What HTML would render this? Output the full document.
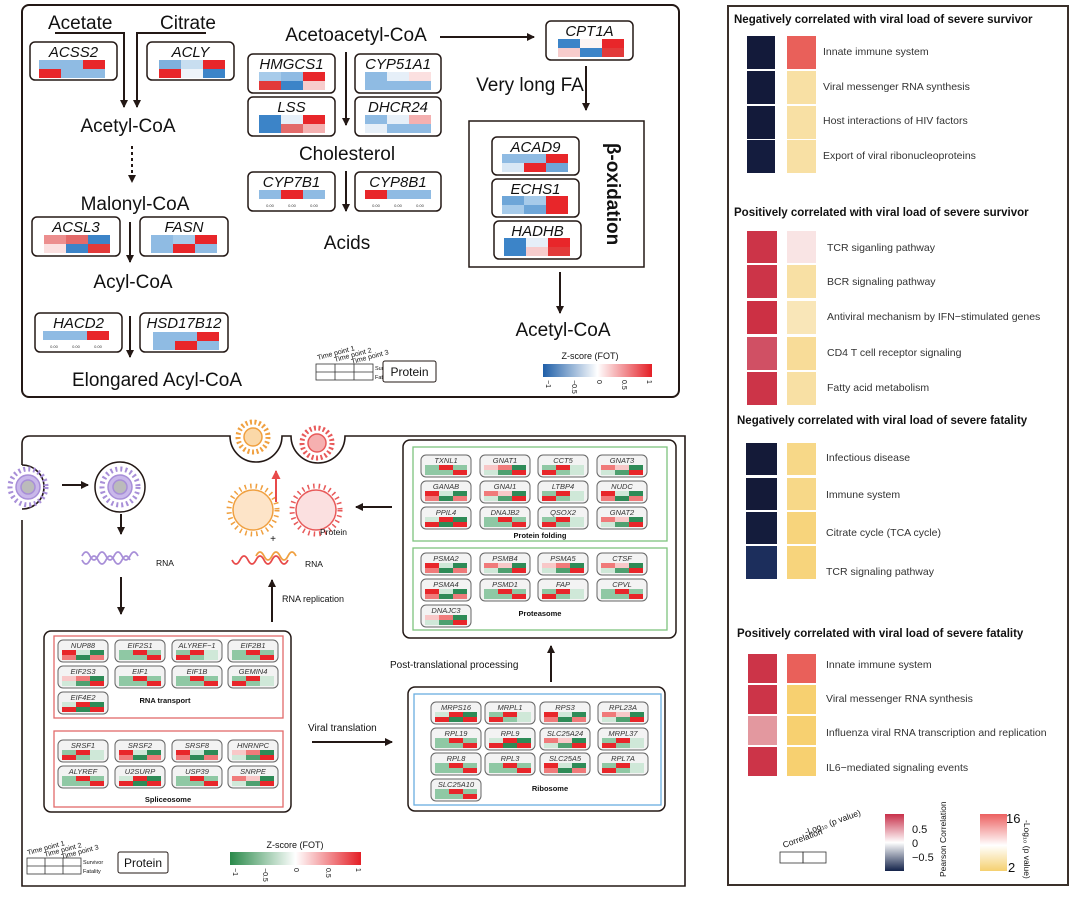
<!DOCTYPE html>
<html><head><meta charset="utf-8"><style>
html,body{margin:0;padding:0;background:#fff}
svg{display:block}
text{font-family:"Liberation Sans",Arial,sans-serif;fill:#111}
.big{font-size:19px}
.gn{font-size:15px;font-style:italic}
.sg{font-size:7.5px;font-style:italic;fill:#333}
.lab{font-size:7.5px;font-weight:bold}
.rt{font-size:10.5px;fill:#333}
.hd{font-size:11.5px;font-weight:bold}
.num{font-size:4px;fill:#333}
</style></head><body>
<svg width="1080" height="899" viewBox="0 0 1080 899" xmlns="http://www.w3.org/2000/svg">
<defs>
<marker id="a" markerWidth="8" markerHeight="8" refX="7" refY="4" orient="auto" markerUnits="userSpaceOnUse"><path d="M0,0 L8,4 L0,8 Z" fill="#231815"/></marker>
<marker id="ar" markerWidth="9" markerHeight="9" refX="8" refY="4.5" orient="auto" markerUnits="userSpaceOnUse"><path d="M0,0 L9,4.5 L0,9 Z" fill="#e84a4a"/></marker>
<linearGradient id="zb" x1="0" x2="1"><stop offset="0" stop-color="#1f5fa8"/><stop offset="0.5" stop-color="#fff"/><stop offset="1" stop-color="#e41f26"/></linearGradient>
<linearGradient id="zg" x1="0" x2="1"><stop offset="0" stop-color="#2a8a4a"/><stop offset="0.5" stop-color="#fff"/><stop offset="1" stop-color="#e41f26"/></linearGradient>
<linearGradient id="pc" x1="0" y1="0" x2="0" y2="1"><stop offset="0" stop-color="#c8304a"/><stop offset="0.5" stop-color="#fff"/><stop offset="1" stop-color="#14234a"/></linearGradient>
<linearGradient id="pv" x1="0" y1="0" x2="0" y2="1"><stop offset="0" stop-color="#ec6060"/><stop offset="0.55" stop-color="#fff"/><stop offset="1" stop-color="#f5d070"/></linearGradient>
<g id="sb"><rect width="50" height="22" rx="5" fill="#f3f3f3" stroke="#666" stroke-width="1"/></g>
<g id="p1"><rect x="4" y="10" width="14" height="5" fill="#8fc8a4"/><rect x="18" y="10" width="14" height="5" fill="#e8262a"/><rect x="32" y="10" width="14" height="5" fill="#8fc8a4"/><rect x="4" y="15" width="14" height="5" fill="#8fc8a4"/><rect x="18" y="15" width="14" height="5" fill="#8fc8a4"/><rect x="32" y="15" width="14" height="5" fill="#e8262a"/></g>
<g id="p2"><rect x="4" y="10" width="14" height="5" fill="#f8c8c8"/><rect x="18" y="10" width="14" height="5" fill="#f07a7a"/><rect x="32" y="10" width="14" height="5" fill="#2e8b57"/><rect x="4" y="15" width="14" height="5" fill="#cfe8d8"/><rect x="18" y="15" width="14" height="5" fill="#4ea070"/><rect x="32" y="15" width="14" height="5" fill="#e8262a"/></g>
<g id="p3"><rect x="4" y="10" width="14" height="5" fill="#8fc8a4"/><rect x="18" y="10" width="14" height="5" fill="#e8262a"/><rect x="32" y="10" width="14" height="5" fill="#cfe8d8"/><rect x="4" y="15" width="14" height="5" fill="#e8262a"/><rect x="18" y="15" width="14" height="5" fill="#8fc8a4"/><rect x="32" y="15" width="14" height="5" fill="#cfe8d8"/></g>
<g id="p4"><rect x="4" y="10" width="14" height="5" fill="#e8262a"/><rect x="18" y="10" width="14" height="5" fill="#cfe8d8"/><rect x="32" y="10" width="14" height="5" fill="#2e8b57"/><rect x="4" y="15" width="14" height="5" fill="#f07a7a"/><rect x="18" y="15" width="14" height="5" fill="#2e8b57"/><rect x="32" y="15" width="14" height="5" fill="#f07a7a"/></g>
<g id="p5"><rect x="4" y="10" width="14" height="5" fill="#cfe8d8"/><rect x="18" y="10" width="14" height="5" fill="#e8262a"/><rect x="32" y="10" width="14" height="5" fill="#2e8b57"/><rect x="4" y="15" width="14" height="5" fill="#e8262a"/><rect x="18" y="15" width="14" height="5" fill="#2e8b57"/><rect x="32" y="15" width="14" height="5" fill="#e8262a"/></g>
<g id="p6"><rect x="4" y="10" width="14" height="5" fill="#f07a7a"/><rect x="18" y="10" width="14" height="5" fill="#f8c8c8"/><rect x="32" y="10" width="14" height="5" fill="#2e8b57"/><rect x="4" y="15" width="14" height="5" fill="#cfe8d8"/><rect x="18" y="15" width="14" height="5" fill="#4ea070"/><rect x="32" y="15" width="14" height="5" fill="#e8262a"/></g>
</defs>

<!-- ===== TOP PANEL ===== -->
<rect x="22" y="5" width="657" height="392" rx="7" fill="none" stroke="#231815" stroke-width="2"/>
<text class="big" x="48" y="29">Acetate</text>
<text class="big" x="160" y="29">Citrate</text>
<path d="M55,33 H124 V107" fill="none" stroke="#231815" stroke-width="2" marker-end="url(#a)"/>
<path d="M206,33 H137 V107" fill="none" stroke="#231815" stroke-width="2" marker-end="url(#a)"/>
<text class="big" x="128" y="132" text-anchor="middle">Acetyl-CoA</text>
<path d="M132,146 V182" stroke="#231815" stroke-width="2" stroke-dasharray="3,3" marker-end="url(#a)"/>
<text class="big" x="135" y="210" text-anchor="middle">Malonyl-CoA</text>
<path d="M130,222 V262" stroke="#231815" stroke-width="2" marker-end="url(#a)"/>
<text class="big" x="133" y="288" text-anchor="middle">Acyl-CoA</text>
<path d="M130,316 V357" stroke="#231815" stroke-width="2" marker-end="url(#a)"/>
<text class="big" x="157" y="386" text-anchor="middle">Elongared Acyl-CoA</text>

<text class="big" x="356" y="41" text-anchor="middle">Acetoacetyl-CoA</text>
<path d="M440,37 H534" stroke="#231815" stroke-width="2" marker-end="url(#a)"/>
<path d="M346,52 V125" stroke="#231815" stroke-width="2" marker-end="url(#a)"/>
<text class="big" x="347" y="160" text-anchor="middle">Cholesterol</text>
<path d="M346,171 V211" stroke="#231815" stroke-width="2" marker-end="url(#a)"/>
<text class="big" x="347" y="249" text-anchor="middle">Acids</text>
<text class="big" x="530" y="91" text-anchor="middle">Very long FA</text>
<path d="M586,66 V110" stroke="#231815" stroke-width="2" marker-end="url(#a)"/>
<rect x="469" y="121" width="175" height="146" fill="none" stroke="#231815" stroke-width="1.5"/>
<text x="612" y="194" font-size="19" font-weight="bold" text-anchor="middle" transform="rotate(90 612 194)" dominant-baseline="middle">β-oxidation</text>
<path d="M560,272 V313" stroke="#231815" stroke-width="2" marker-end="url(#a)"/>
<text class="big" x="563" y="336" text-anchor="middle">Acetyl-CoA</text>

<g stroke-width="0">
<g transform="translate(30,42)"><rect width="87" height="38" rx="5" fill="#fff" stroke="#231815" stroke-width="1.5"/><text class="gn" x="43.5" y="15" text-anchor="middle">ACSS2</text>
<rect x="9" y="18" width="22" height="9" fill="#8fbbe3"/><rect x="31" y="18" width="22" height="9" fill="#8fbbe3"/><rect x="53" y="18" width="22" height="9" fill="#e8262a"/><rect x="9" y="27" width="22" height="9" fill="#e8262a"/><rect x="31" y="27" width="22" height="9" fill="#8fbbe3"/><rect x="53" y="27" width="22" height="9" fill="#8fbbe3"/></g>
<g transform="translate(147,42)"><rect width="87" height="38" rx="5" fill="#fff" stroke="#231815" stroke-width="1.5"/><text class="gn" x="43.5" y="15" text-anchor="middle">ACLY</text>
<rect x="12" y="18" width="22" height="9" fill="#7fb0dc"/><rect x="34" y="18" width="22" height="9" fill="#c8def0"/><rect x="56" y="18" width="22" height="9" fill="#e8262a"/><rect x="12" y="27" width="22" height="9" fill="#e8262a"/><rect x="34" y="27" width="22" height="9" fill="#eef4fa"/><rect x="56" y="27" width="22" height="9" fill="#3c84c8"/></g>
<g transform="translate(32,217)"><rect width="88" height="39" rx="5" fill="#fff" stroke="#231815" stroke-width="1.5"/><text class="gn" x="44" y="15" text-anchor="middle">ACSL3</text>
<rect x="12" y="18" width="22" height="9" fill="#ec8e8e"/><rect x="34" y="18" width="22" height="9" fill="#e36a6a"/><rect x="56" y="18" width="22" height="9" fill="#3c84c8"/><rect x="12" y="27" width="22" height="9" fill="#fbe0e0"/><rect x="34" y="27" width="22" height="9" fill="#3c84c8"/><rect x="56" y="27" width="22" height="9" fill="#e23a3a"/></g>
<g transform="translate(140,217)"><rect width="88" height="39" rx="5" fill="#fff" stroke="#231815" stroke-width="1.5"/><text class="gn" x="44" y="15" text-anchor="middle">FASN</text>
<rect x="11" y="18" width="22" height="9" fill="#8fbbe3"/><rect x="33" y="18" width="22" height="9" fill="#a7cbea"/><rect x="55" y="18" width="22" height="9" fill="#e8262a"/><rect x="11" y="27" width="22" height="9" fill="#8fbbe3"/><rect x="33" y="27" width="22" height="9" fill="#e8262a"/><rect x="55" y="27" width="22" height="9" fill="#8fbbe3"/></g>
<g transform="translate(35,313)"><rect width="87" height="39" rx="5" fill="#fff" stroke="#231815" stroke-width="1.5"/><text class="gn" x="43.5" y="15" text-anchor="middle">HACD2</text>
<rect x="8" y="18" width="22" height="9" fill="#8fbbe3"/><rect x="30" y="18" width="22" height="9" fill="#8fbbe3"/><rect x="52" y="18" width="22" height="9" fill="#e8262a"/><text class="num" x="19" y="35" text-anchor="middle">0.00</text><text class="num" x="41" y="35" text-anchor="middle">0.00</text><text class="num" x="63" y="35" text-anchor="middle">0.00</text></g>
<g transform="translate(140,313)"><rect width="88" height="39" rx="5" fill="#fff" stroke="#231815" stroke-width="1.5"/><text class="gn" x="44" y="15" text-anchor="middle">HSD17B12</text>
<rect x="13" y="19" width="22" height="9" fill="#8fbbe3"/><rect x="35" y="19" width="22" height="9" fill="#8fbbe3"/><rect x="57" y="19" width="22" height="9" fill="#e8262a"/><rect x="13" y="28" width="22" height="9" fill="#8fbbe3"/><rect x="35" y="28" width="22" height="9" fill="#e8262a"/><rect x="57" y="28" width="22" height="9" fill="#8fbbe3"/></g>

<g transform="translate(248,54)"><rect width="87" height="39" rx="5" fill="#fff" stroke="#231815" stroke-width="1.5"/><text class="gn" x="43.5" y="15" text-anchor="middle">HMGCS1</text>
<rect x="11" y="18" width="22" height="9" fill="#a7cbea"/><rect x="33" y="18" width="22" height="9" fill="#8fbbe3"/><rect x="55" y="18" width="22" height="9" fill="#e8262a"/><rect x="11" y="27" width="22" height="9" fill="#e23a3a"/><rect x="33" y="27" width="22" height="9" fill="#3c84c8"/><rect x="55" y="27" width="22" height="9" fill="#f7cccc"/></g>
<g transform="translate(355,54)"><rect width="86" height="39" rx="5" fill="#fff" stroke="#231815" stroke-width="1.5"/><text class="gn" x="43" y="15" text-anchor="middle">CYP51A1</text>
<rect x="10" y="18" width="22" height="9" fill="#8fbbe3"/><rect x="32" y="18" width="22" height="9" fill="#e6eff8"/><rect x="54" y="18" width="22" height="9" fill="#fbe0e0"/><rect x="10" y="27" width="22" height="9" fill="#8fbbe3"/><rect x="32" y="27" width="22" height="9" fill="#8fbbe3"/><rect x="54" y="27" width="22" height="9" fill="#8fbbe3"/></g>
<g transform="translate(248,97)"><rect width="87" height="39" rx="5" fill="#fff" stroke="#231815" stroke-width="1.5"/><text class="gn" x="43.5" y="15" text-anchor="middle">LSS</text>
<rect x="11" y="18" width="22" height="9" fill="#3c84c8"/><rect x="33" y="18" width="22" height="9" fill="#e6eff8"/><rect x="55" y="18" width="22" height="9" fill="#e8262a"/><rect x="11" y="27" width="22" height="9" fill="#3c84c8"/><rect x="33" y="27" width="22" height="9" fill="#e36a6a"/><rect x="55" y="27" width="22" height="9" fill="#f4b0b0"/></g>
<g transform="translate(355,97)"><rect width="86" height="39" rx="5" fill="#fff" stroke="#231815" stroke-width="1.5"/><text class="gn" x="43" y="15" text-anchor="middle">DHCR24</text>
<rect x="10" y="18" width="22" height="9" fill="#8fbbe3"/><rect x="32" y="18" width="22" height="9" fill="#e6eff8"/><rect x="54" y="18" width="22" height="9" fill="#f4b0b0"/><rect x="10" y="27" width="22" height="9" fill="#e6eff8"/><rect x="32" y="27" width="22" height="9" fill="#8fbbe3"/><rect x="54" y="27" width="22" height="9" fill="#8fbbe3"/></g>
<g transform="translate(248,172)"><rect width="87" height="39" rx="5" fill="#fff" stroke="#231815" stroke-width="1.5"/><text class="gn" x="43.5" y="15" text-anchor="middle">CYP7B1</text>
<rect x="11" y="18" width="22" height="9" fill="#8fbbe3"/><rect x="33" y="18" width="22" height="9" fill="#e8262a"/><rect x="55" y="18" width="22" height="9" fill="#8fbbe3"/><text class="num" x="22" y="35" text-anchor="middle">0.00</text><text class="num" x="44" y="35" text-anchor="middle">0.00</text><text class="num" x="66" y="35" text-anchor="middle">0.00</text></g>
<g transform="translate(355,172)"><rect width="86" height="39" rx="5" fill="#fff" stroke="#231815" stroke-width="1.5"/><text class="gn" x="43" y="15" text-anchor="middle">CYP8B1</text>
<rect x="10" y="18" width="22" height="9" fill="#e8262a"/><rect x="32" y="18" width="22" height="9" fill="#8fbbe3"/><rect x="54" y="18" width="22" height="9" fill="#8fbbe3"/><text class="num" x="21" y="35" text-anchor="middle">0.00</text><text class="num" x="43" y="35" text-anchor="middle">0.00</text><text class="num" x="65" y="35" text-anchor="middle">0.00</text></g>

<g transform="translate(546,21)"><rect width="87" height="39" rx="5" fill="#fff" stroke="#231815" stroke-width="1.5"/><text class="gn" x="43.5" y="15" text-anchor="middle">CPT1A</text>
<rect x="12" y="18" width="22" height="9" fill="#3c84c8"/><rect x="34" y="18" width="22" height="9" fill="#fbf4f4"/><rect x="56" y="18" width="22" height="9" fill="#e8262a"/><rect x="12" y="27" width="22" height="9" fill="#f7cccc"/><rect x="34" y="27" width="22" height="9" fill="#3c84c8"/><rect x="56" y="27" width="22" height="9" fill="#e23a3a"/></g>
<g transform="translate(492,137)"><rect width="87" height="38" rx="5" fill="#fff" stroke="#231815" stroke-width="1.5"/><text class="gn" x="43.5" y="15" text-anchor="middle">ACAD9</text>
<rect x="10" y="17" width="22" height="9" fill="#8fbbe3"/><rect x="32" y="17" width="22" height="9" fill="#8fbbe3"/><rect x="54" y="17" width="22" height="9" fill="#e8262a"/><rect x="10" y="26" width="22" height="9" fill="#d8e7f5"/><rect x="32" y="26" width="22" height="9" fill="#e8262a"/><rect x="54" y="26" width="22" height="9" fill="#6ea6d8"/></g>
<g transform="translate(492,179)"><rect width="87" height="38" rx="5" fill="#fff" stroke="#231815" stroke-width="1.5"/><text class="gn" x="43.5" y="15" text-anchor="middle">ECHS1</text>
<rect x="10" y="17" width="22" height="9" fill="#6ea6d8"/><rect x="32" y="17" width="22" height="9" fill="#a7cbea"/><rect x="54" y="17" width="22" height="9" fill="#e8262a"/><rect x="10" y="26" width="22" height="9" fill="#a7cbea"/><rect x="32" y="26" width="22" height="9" fill="#6ea6d8"/><rect x="54" y="26" width="22" height="9" fill="#e8262a"/></g>
<g transform="translate(494,221)"><rect width="87" height="38" rx="5" fill="#fff" stroke="#231815" stroke-width="1.5"/><text class="gn" x="43.5" y="15" text-anchor="middle">HADHB</text>
<rect x="10" y="17" width="22" height="9" fill="#3c84c8"/><rect x="32" y="17" width="22" height="9" fill="#e6eff8"/><rect x="54" y="17" width="22" height="9" fill="#e8262a"/><rect x="10" y="26" width="22" height="9" fill="#3c84c8"/><rect x="32" y="26" width="22" height="9" fill="#f7cccc"/><rect x="54" y="26" width="22" height="9" fill="#e23a3a"/></g>
</g>

<g transform="translate(316,364)"><rect width="57" height="16" fill="none" stroke="#333" stroke-width="0.8"/><path d="M19,0V16M38,0V16M0,8H57" stroke="#333" stroke-width="0.8"/></g>
<text x="318" y="360" font-size="7" transform="rotate(-15 318 360)">Time point 1</text>
<text x="335" y="362" font-size="7" transform="rotate(-15 335 362)">Time point 2</text>
<text x="352" y="364" font-size="7" transform="rotate(-15 352 364)">Time point 3</text>
<text x="375" y="370" font-size="5.5">Survivor</text><text x="375" y="379" font-size="5.5">Fatality</text>
<rect x="383" y="361" width="53" height="21" rx="2" fill="#fff" stroke="#231815" stroke-width="1"/>
<text x="409.5" y="376" font-size="12" text-anchor="middle">Protein</text>
<text x="590" y="359" font-size="9" text-anchor="middle">Z-score (FOT)</text>
<rect x="543" y="364" width="109" height="13" fill="url(#zb)"/>
<text font-size="7" transform="translate(546,380) rotate(90)">−1</text>
<text font-size="7" transform="translate(572,380) rotate(90)">−0.5</text>
<text font-size="7" transform="translate(597,380) rotate(90)">0</text>
<text font-size="7" transform="translate(622,380) rotate(90)">0.5</text>
<text font-size="7" transform="translate(647,380) rotate(90)">1</text>

<!-- ===== BOTTOM PANEL ===== -->
<path d="M22,520 V886 H685 V436 H345 A27,27 0 0 1 291,436 H282 A26,26 0 0 1 230,436 H30 Q22,436 22,444 V465" fill="none" stroke="#231815" stroke-width="1.6"/>
<path d="M22,465 A22,22 0 0 1 22,509" fill="none" stroke="#231815" stroke-width="1.6"/>
<g fill="none" stroke="#a88fd8" stroke-width="1.5">
<circle cx="28" cy="487" r="12" fill="#c9b8ea"/><circle cx="28" cy="487" r="7" fill="#bbb"/>
<circle cx="28" cy="487" r="18" stroke-dasharray="2,3" stroke-width="5"/>
<circle cx="120" cy="487" r="12" fill="#c9b8ea"/><circle cx="120" cy="487" r="7" fill="#bbb"/>
<circle cx="120" cy="487" r="18" stroke-dasharray="2,3" stroke-width="5"/>
</g>
<circle cx="120" cy="487" r="25" fill="none" stroke="#231815" stroke-width="1.5"/>
<path d="M62,485 H88" stroke="#231815" stroke-width="2" marker-end="url(#a)"/>
<path d="M121,514 V534" stroke="#231815" stroke-width="2" marker-end="url(#a)"/>
<path d="M82,556 q4,-8 8,0 t8,0 t8,0 t8,0 t8,0 t8,0 t8,0 M82,560 q4,8 8,0 t8,0 t8,0 t8,0 t8,0 t8,0" fill="none" stroke="#a88fd8" stroke-width="1.8"/>
<text x="156" y="566" font-size="8.5">RNA</text>
<path d="M121,577 V614" stroke="#231815" stroke-width="2" marker-end="url(#a)"/>

<g fill="none" stroke-width="1.5">
<circle cx="253" cy="437" r="15" stroke="#f0a040" stroke-dasharray="2,2.5" stroke-width="5"/><circle cx="253" cy="437" r="9" stroke="#f0a040" fill="#fbd8a8"/>
<circle cx="317" cy="443" r="15" stroke="#e85a5a" stroke-dasharray="2,2.5" stroke-width="5"/><circle cx="317" cy="443" r="9" stroke="#e85a5a" fill="#f6b0b0"/>
<circle cx="253" cy="510" r="20" stroke="#f0a040" fill="#fde4c8"/><circle cx="253" cy="510" r="24" stroke="#f0a040" stroke-dasharray="1.5,4" stroke-width="5"/>
<circle cx="316" cy="510" r="20" stroke="#e85a5a" fill="#fbe0e0"/><circle cx="316" cy="510" r="24" stroke="#e85a5a" stroke-dasharray="1.5,4" stroke-width="5"/>
</g>
<path d="M276,502 V471" stroke="#e84a4a" stroke-width="2" marker-end="url(#ar)"/>
<text x="273" y="542" font-size="10" text-anchor="middle">+</text>
<text x="320" y="535" font-size="8.5">Protein</text>
<path d="M392,507 H356" stroke="#231815" stroke-width="2" marker-end="url(#a)"/>
<path d="M232,560 q4,8 8,0 t8,0 t8,0 t8,0 t8,0 t8,0 t8,0" fill="none" stroke="#e84a4a" stroke-width="1.8"/>
<path d="M256,556 q4,-8 8,0 t8,0 t8,0 t8,0 t8,0" fill="none" stroke="#f0a040" stroke-width="1.8"/>
<text x="305" y="567" font-size="8.5">RNA</text>
<path d="M272,622 V580" stroke="#231815" stroke-width="2" marker-end="url(#a)"/>
<text x="282" y="602" font-size="9">RNA replication</text>

<rect x="44" y="631" width="247" height="181" rx="7" fill="none" stroke="#231815" stroke-width="1.5"/>
<rect x="54" y="636" width="229" height="82" fill="none" stroke="#e26a6a" stroke-width="1.3"/>
<rect x="54" y="731" width="229" height="76" fill="none" stroke="#e26a6a" stroke-width="1.3"/>

<g transform="translate(58,640)"><use href="#sb"/><use href="#p4"/><text class="sg" x="25" y="8" text-anchor="middle">NUP88</text></g>
<g transform="translate(115,640)"><use href="#sb"/><use href="#p1"/><text class="sg" x="25" y="8" text-anchor="middle">EIF2S1</text></g>
<g transform="translate(172,640)"><use href="#sb"/><use href="#p3"/><text class="sg" x="25" y="8" text-anchor="middle">ALYREF−1</text></g>
<g transform="translate(228,640)"><use href="#sb"/><use href="#p1"/><text class="sg" x="25" y="8" text-anchor="middle">EIF2B1</text></g>
<g transform="translate(58,666)"><use href="#sb"/><use href="#p2"/><text class="sg" x="25" y="8" text-anchor="middle">EIF2S3</text></g>
<g transform="translate(115,666)"><use href="#sb"/><use href="#p1"/><text class="sg" x="25" y="8" text-anchor="middle">EIF1</text></g>
<g transform="translate(172,666)"><use href="#sb"/><use href="#p1"/><text class="sg" x="25" y="8" text-anchor="middle">EIF1B</text></g>
<g transform="translate(228,666)"><use href="#sb"/><use href="#p3"/><text class="sg" x="25" y="8" text-anchor="middle">GEMIN4</text></g>
<g transform="translate(58,692)"><use href="#sb"/><use href="#p5"/><text class="sg" x="25" y="8" text-anchor="middle">EIF4E2</text></g>
<text class="lab" x="165" y="703" text-anchor="middle">RNA transport</text>

<g transform="translate(58,740)"><use href="#sb"/><use href="#p3"/><text class="sg" x="25" y="8" text-anchor="middle">SRSF1</text></g>
<g transform="translate(115,740)"><use href="#sb"/><use href="#p4"/><text class="sg" x="25" y="8" text-anchor="middle">SRSF2</text></g>
<g transform="translate(172,740)"><use href="#sb"/><use href="#p4"/><text class="sg" x="25" y="8" text-anchor="middle">SRSF8</text></g>
<g transform="translate(228,740)"><use href="#sb"/><use href="#p2"/><text class="sg" x="25" y="8" text-anchor="middle">HNRNPC</text></g>
<g transform="translate(58,766)"><use href="#sb"/><use href="#p1"/><text class="sg" x="25" y="8" text-anchor="middle">ALYREF</text></g>
<g transform="translate(115,766)"><use href="#sb"/><use href="#p5"/><text class="sg" x="25" y="8" text-anchor="middle">U2SURP</text></g>
<g transform="translate(172,766)"><use href="#sb"/><use href="#p1"/><text class="sg" x="25" y="8" text-anchor="middle">USP39</text></g>
<g transform="translate(228,766)"><use href="#sb"/><use href="#p6"/><text class="sg" x="25" y="8" text-anchor="middle">SNRPE</text></g>
<text class="lab" x="168" y="802" text-anchor="middle">Spliceosome</text>

<text x="308" y="731" font-size="10">Viral translation</text>
<path d="M312,742 H392" stroke="#231815" stroke-width="2" marker-end="url(#a)"/>

<rect x="403" y="440" width="273" height="198" rx="7" fill="none" stroke="#231815" stroke-width="1.5"/>
<rect x="413" y="447" width="254" height="94" fill="none" stroke="#7ec47e" stroke-width="1.3"/>
<rect x="413" y="548" width="254" height="82" fill="none" stroke="#7ec47e" stroke-width="1.3"/>
<g transform="translate(421,455)"><use href="#sb"/><use href="#p1"/><text class="sg" x="25" y="8" text-anchor="middle">TXNL1</text></g>
<g transform="translate(480,455)"><use href="#sb"/><use href="#p2"/><text class="sg" x="25" y="8" text-anchor="middle">GNAT1</text></g>
<g transform="translate(538,455)"><use href="#sb"/><use href="#p3"/><text class="sg" x="25" y="8" text-anchor="middle">CCT5</text></g>
<g transform="translate(597,455)"><use href="#sb"/><use href="#p6"/><text class="sg" x="25" y="8" text-anchor="middle">GNAT3</text></g>
<g transform="translate(421,481)"><use href="#sb"/><use href="#p4"/><text class="sg" x="25" y="8" text-anchor="middle">GANAB</text></g>
<g transform="translate(480,481)"><use href="#sb"/><use href="#p6"/><text class="sg" x="25" y="8" text-anchor="middle">GNAI1</text></g>
<g transform="translate(538,481)"><use href="#sb"/><use href="#p3"/><text class="sg" x="25" y="8" text-anchor="middle">LTBP4</text></g>
<g transform="translate(597,481)"><use href="#sb"/><use href="#p4"/><text class="sg" x="25" y="8" text-anchor="middle">NUDC</text></g>
<g transform="translate(421,507)"><use href="#sb"/><use href="#p5"/><text class="sg" x="25" y="8" text-anchor="middle">PPIL4</text></g>
<g transform="translate(480,507)"><use href="#sb"/><use href="#p1"/><text class="sg" x="25" y="8" text-anchor="middle">DNAJB2</text></g>
<g transform="translate(538,507)"><use href="#sb"/><use href="#p3"/><text class="sg" x="25" y="8" text-anchor="middle">QSOX2</text></g>
<g transform="translate(597,507)"><use href="#sb"/><use href="#p6"/><text class="sg" x="25" y="8" text-anchor="middle">GNAT2</text></g>
<text class="lab" x="540" y="538" text-anchor="middle">Protein folding</text>

<g transform="translate(421,553)"><use href="#sb"/><use href="#p4"/><text class="sg" x="25" y="8" text-anchor="middle">PSMA2</text></g>
<g transform="translate(480,553)"><use href="#sb"/><use href="#p6"/><text class="sg" x="25" y="8" text-anchor="middle">PSMB4</text></g>
<g transform="translate(538,553)"><use href="#sb"/><use href="#p2"/><text class="sg" x="25" y="8" text-anchor="middle">PSMA5</text></g>
<g transform="translate(597,553)"><use href="#sb"/><use href="#p6"/><text class="sg" x="25" y="8" text-anchor="middle">CTSF</text></g>
<g transform="translate(421,579)"><use href="#sb"/><use href="#p4"/><text class="sg" x="25" y="8" text-anchor="middle">PSMA4</text></g>
<g transform="translate(480,579)"><use href="#sb"/><use href="#p1"/><text class="sg" x="25" y="8" text-anchor="middle">PSMD1</text></g>
<g transform="translate(538,579)"><use href="#sb"/><use href="#p3"/><text class="sg" x="25" y="8" text-anchor="middle">FAP</text></g>
<g transform="translate(597,579)"><use href="#sb"/><use href="#p1"/><text class="sg" x="25" y="8" text-anchor="middle">CPVL</text></g>
<g transform="translate(421,605)"><use href="#sb"/><use href="#p2"/><text class="sg" x="25" y="8" text-anchor="middle">DNAJC3</text></g>
<text class="lab" x="540" y="616" text-anchor="middle">Proteasome</text>

<text x="390" y="668" font-size="10">Post-translational processing</text>
<path d="M551,682 V646" stroke="#231815" stroke-width="2" marker-end="url(#a)"/>

<rect x="408" y="687" width="257" height="124" rx="7" fill="none" stroke="#231815" stroke-width="1.5"/>
<rect x="414" y="694" width="247" height="111" fill="none" stroke="#6aaee0" stroke-width="1.3"/>
<g transform="translate(431,702)"><use href="#sb"/><use href="#p5"/><text class="sg" x="25" y="8" text-anchor="middle">MRPS16</text></g>
<g transform="translate(485,702)"><use href="#sb"/><use href="#p3"/><text class="sg" x="25" y="8" text-anchor="middle">MRPL1</text></g>
<g transform="translate(540,702)"><use href="#sb"/><use href="#p4"/><text class="sg" x="25" y="8" text-anchor="middle">RPS3</text></g>
<g transform="translate(598,702)"><use href="#sb"/><use href="#p6"/><text class="sg" x="25" y="8" text-anchor="middle">RPL23A</text></g>
<g transform="translate(431,728)"><use href="#sb"/><use href="#p1"/><text class="sg" x="25" y="8" text-anchor="middle">RPL19</text></g>
<g transform="translate(485,728)"><use href="#sb"/><use href="#p5"/><text class="sg" x="25" y="8" text-anchor="middle">RPL9</text></g>
<g transform="translate(540,728)"><use href="#sb"/><use href="#p6"/><text class="sg" x="25" y="8" text-anchor="middle">SLC25A24</text></g>
<g transform="translate(598,728)"><use href="#sb"/><use href="#p3"/><text class="sg" x="25" y="8" text-anchor="middle">MRPL37</text></g>
<g transform="translate(431,753)"><use href="#sb"/><use href="#p1"/><text class="sg" x="25" y="8" text-anchor="middle">RPL8</text></g>
<g transform="translate(485,753)"><use href="#sb"/><use href="#p1"/><text class="sg" x="25" y="8" text-anchor="middle">RPL3</text></g>
<g transform="translate(540,753)"><use href="#sb"/><use href="#p4"/><text class="sg" x="25" y="8" text-anchor="middle">SLC25A5</text></g>
<g transform="translate(598,753)"><use href="#sb"/><use href="#p3"/><text class="sg" x="25" y="8" text-anchor="middle">RPL7A</text></g>
<g transform="translate(431,779)"><use href="#sb"/><use href="#p1"/><text class="sg" x="25" y="8" text-anchor="middle">SLC25A10</text></g>
<text class="lab" x="550" y="791" text-anchor="middle">Ribosome</text>

<g transform="translate(27,858)"><rect width="54" height="16" fill="none" stroke="#333" stroke-width="0.8"/><path d="M18,0V16M36,0V16M0,8H54" stroke="#333" stroke-width="0.8"/></g>
<text x="28" y="855" font-size="7" transform="rotate(-15 28 855)">Time point 1</text>
<text x="45" y="857" font-size="7" transform="rotate(-15 45 857)">Time point 2</text>
<text x="62" y="859" font-size="7" transform="rotate(-15 62 859)">Time point 3</text>
<text x="83" y="864" font-size="5.5">Survivor</text><text x="83" y="873" font-size="5.5">Fatality</text>
<rect x="118" y="852" width="50" height="21" rx="2" fill="#fff" stroke="#231815" stroke-width="1"/>
<text x="143" y="867" font-size="12" text-anchor="middle">Protein</text>
<text x="295" y="848" font-size="9" text-anchor="middle">Z-score (FOT)</text>
<rect x="230" y="852" width="131" height="13" fill="url(#zg)"/>
<text font-size="7" transform="translate(233,868) rotate(90)">−1</text>
<text font-size="7" transform="translate(263,868) rotate(90)">−0.5</text>
<text font-size="7" transform="translate(294,868) rotate(90)">0</text>
<text font-size="7" transform="translate(326,868) rotate(90)">0.5</text>
<text font-size="7" transform="translate(356,868) rotate(90)">1</text>

<!-- ===== RIGHT PANEL ===== -->
<rect x="728" y="6" width="340" height="879" fill="none" stroke="#3a302a" stroke-width="2"/>
<text class="hd" x="734" y="23">Negatively correlated with viral load of severe survivor</text>
<rect x="747" y="36" width="28" height="33" fill="#131a3a"/><rect x="787" y="36" width="29" height="33" fill="#e9605a"/>
<rect x="747" y="71" width="28" height="33" fill="#131a3a"/><rect x="787" y="71" width="29" height="33" fill="#f8e0a4"/>
<rect x="747" y="106" width="28" height="33" fill="#131a3a"/><rect x="787" y="106" width="29" height="33" fill="#f8e0a4"/>
<rect x="747" y="140" width="28" height="33" fill="#141c3e"/><rect x="787" y="140" width="29" height="33" fill="#f8e0a4"/>
<text class="rt" x="823" y="55">Innate immune system</text>
<text class="rt" x="823" y="90">Viral messenger RNA synthesis</text>
<text class="rt" x="823" y="124">Host interactions of HIV factors</text>
<text class="rt" x="823" y="159">Export of viral ribonucleoproteins</text>

<text class="hd" x="734" y="216">Positively correlated with viral load of severe survivor</text>
<rect x="747" y="231" width="30" height="32" fill="#cc3448"/><rect x="787" y="231" width="29" height="32" fill="#f9e4e4"/>
<rect x="747" y="265" width="30" height="33" fill="#cc3448"/><rect x="787" y="265" width="29" height="33" fill="#f8e0a4"/>
<rect x="747" y="301" width="30" height="33" fill="#cc3044"/><rect x="787" y="301" width="29" height="33" fill="#f9e6b8"/>
<rect x="747" y="337" width="30" height="33" fill="#d05064"/><rect x="787" y="337" width="29" height="33" fill="#f8dc98"/>
<rect x="747" y="372" width="30" height="33" fill="#cc3448"/><rect x="787" y="372" width="29" height="33" fill="#f8e0a4"/>
<text class="rt" x="827" y="251">TCR siganling pathway</text>
<text class="rt" x="827" y="285">BCR signaling pathway</text>
<text class="rt" x="827" y="320">Antiviral mechanism by IFN−stimulated genes</text>
<text class="rt" x="827" y="356">CD4 T cell receptor signaling</text>
<text class="rt" x="827" y="391">Fatty acid metabolism</text>

<text class="hd" x="737" y="424">Negatively correlated with viral load of severe fatality</text>
<rect x="746" y="443" width="31" height="32" fill="#141a38"/><rect x="787" y="443" width="29" height="32" fill="#f7d888"/>
<rect x="746" y="478" width="31" height="32" fill="#141a38"/><rect x="787" y="478" width="29" height="32" fill="#f7d888"/>
<rect x="746" y="512" width="31" height="32" fill="#141c3c"/><rect x="787" y="512" width="29" height="32" fill="#f7d47c"/>
<rect x="746" y="546" width="31" height="33" fill="#1c2e5c"/><rect x="787" y="546" width="29" height="33" fill="#f7d47c"/>
<text class="rt" x="826" y="461">Infectious disease</text>
<text class="rt" x="826" y="498">Immune system</text>
<text class="rt" x="826" y="536">Citrate cycle (TCA cycle)</text>
<text class="rt" x="826" y="575">TCR signaling pathway</text>

<text class="hd" x="737" y="637">Positively correlated with viral load of severe fatality</text>
<rect x="748" y="654" width="29" height="29" fill="#cc3448"/><rect x="787" y="654" width="29" height="29" fill="#e9605a"/>
<rect x="748" y="685" width="29" height="29" fill="#cc3448"/><rect x="787" y="685" width="29" height="29" fill="#f7d070"/>
<rect x="748" y="716" width="29" height="29" fill="#e3989f"/><rect x="787" y="716" width="29" height="29" fill="#f7d070"/>
<rect x="748" y="747" width="29" height="29" fill="#cc3448"/><rect x="787" y="747" width="29" height="29" fill="#f7d070"/>
<text class="rt" x="826" y="668">Innate immune system</text>
<text class="rt" x="826" y="702">Viral messenger RNA synthesis</text>
<text class="rt" x="826" y="736">Influenza viral RNA transcription and replication</text>
<text class="rt" x="826" y="771">IL6−mediated signaling events</text>

<rect x="780" y="852" width="23" height="11" fill="none" stroke="#333" stroke-width="0.8"/>
<rect x="803" y="852" width="23" height="11" fill="none" stroke="#333" stroke-width="0.8"/>
<text x="784" y="848" font-size="8.5" transform="rotate(-20 784 848)">Correlation</text>
<text x="806" y="835" font-size="8.5" transform="rotate(-20 806 835)">-Log₁₀ (p value)</text>
<rect x="885" y="814" width="19" height="57" fill="url(#pc)"/>
<text x="912" y="833" font-size="11">0.5</text>
<text x="912" y="847" font-size="11">0</text>
<text x="912" y="861" font-size="11">−0.5</text>
<text font-size="8.5" transform="translate(946,877) rotate(-90)">Pearson Correlation</text>
<rect x="980" y="814" width="27" height="57" fill="url(#pv)"/>
<text x="1006" y="823" font-size="13">16</text>
<text x="1008" y="872" font-size="13">2</text>
<text font-size="8.5" transform="translate(1024,820) rotate(90)">-Log₁₀ (p value)</text>
</svg>
</body></html>
